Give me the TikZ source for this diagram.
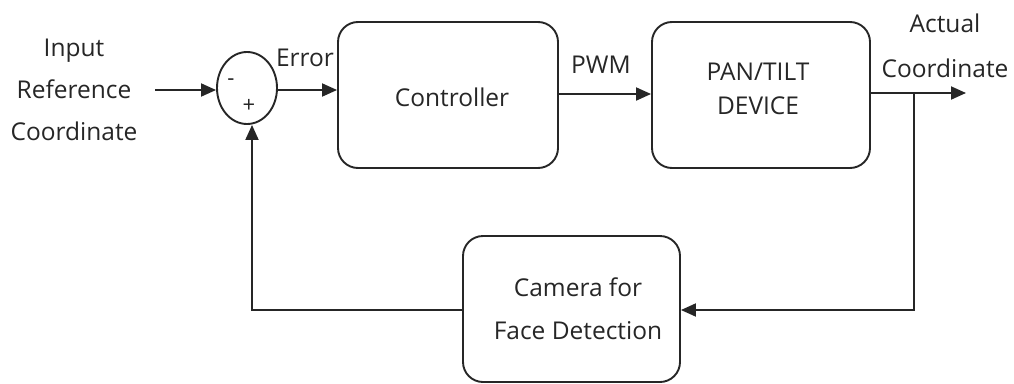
\documentclass[tikz,border=0pt]{standalone}
\usepackage{fontspec}
\setmainfont{Open Sans}
\usetikzlibrary{arrows.meta,shapes.geometric}
\begin{document}
\begin{tikzpicture}[x=1pt,y=-1pt,
  line width=1.9pt, draw={black!85},
  >={Triangle[length=15pt,width=13pt]},
  blockbox/.style={draw, rounded corners=20pt, minimum width=#1, minimum height=146pt, inner sep=0pt},
  lbl/.style={font=\fontsize{24.5}{42}\selectfont, text=black!85, align=center, inner sep=0pt},
  sign/.style={font=\fontsize{22}{22}\selectfont, text=black!85, inner sep=0pt}]
  \useasboundingbox (0,0) rectangle (1014,383);

  % summing junction
  \node[draw, ellipse, minimum width=60pt, minimum height=72pt, inner sep=0pt] (sum) at (247,88) {};
  \node[sign] (minus) at (231,82) {-};
  \node[sign] (plus) at (249,106) {+};

  % blocks
  \node[blockbox=220pt] (ctrl) at (448,95) {};
  \node[lbl] (ctrltxt) at (452,97) {Controller};
  \node[blockbox=218pt] (ptd) at (761,95) {};
  \node[lbl, font=\fontsize{24.5}{34}\selectfont] (ptdtxt) at (758,89) {PAN/TILT\\DEVICE};
  \node[blockbox=217pt] (cam) at (571.5,309) {};
  \node[lbl, font=\fontsize{24.5}{43}\selectfont] (camtxt) at (578,309) {Camera for\\Face Detection};

  % signal labels
  \node[lbl] (intxt) at (74,90) {Input\\Reference\\Coordinate};
  \node[lbl] (errtxt) at (305,58) {Error};
  \node[lbl] (pwmtxt) at (601,65) {PWM};
  \node[lbl, font=\fontsize{24.5}{45}\selectfont] (outtxt) at (945,46) {Actual\\Coordinate};

  % connectors
  \coordinate (in) at (155,90);
  \coordinate (out) at (966,93);
  \coordinate (branch) at (914,93);
  \draw[->] (in) -- (in -| sum.west);
  \draw[->] (sum.east |- 0,90) -- (ctrl.west |- 0,90);
  \draw[->] (ctrl.east |- 0,94) -- (ptd.west |- 0,94);
  \draw[->] (ptd.east |- out) -- (out);
  \draw[->] (branch) -- (branch |- 0,310) -- (cam.east |- 0,310);
  \draw[->] (cam.west |- 0,310) -| ([xshift=5pt]sum.south);
\end{tikzpicture}
\end{document}
